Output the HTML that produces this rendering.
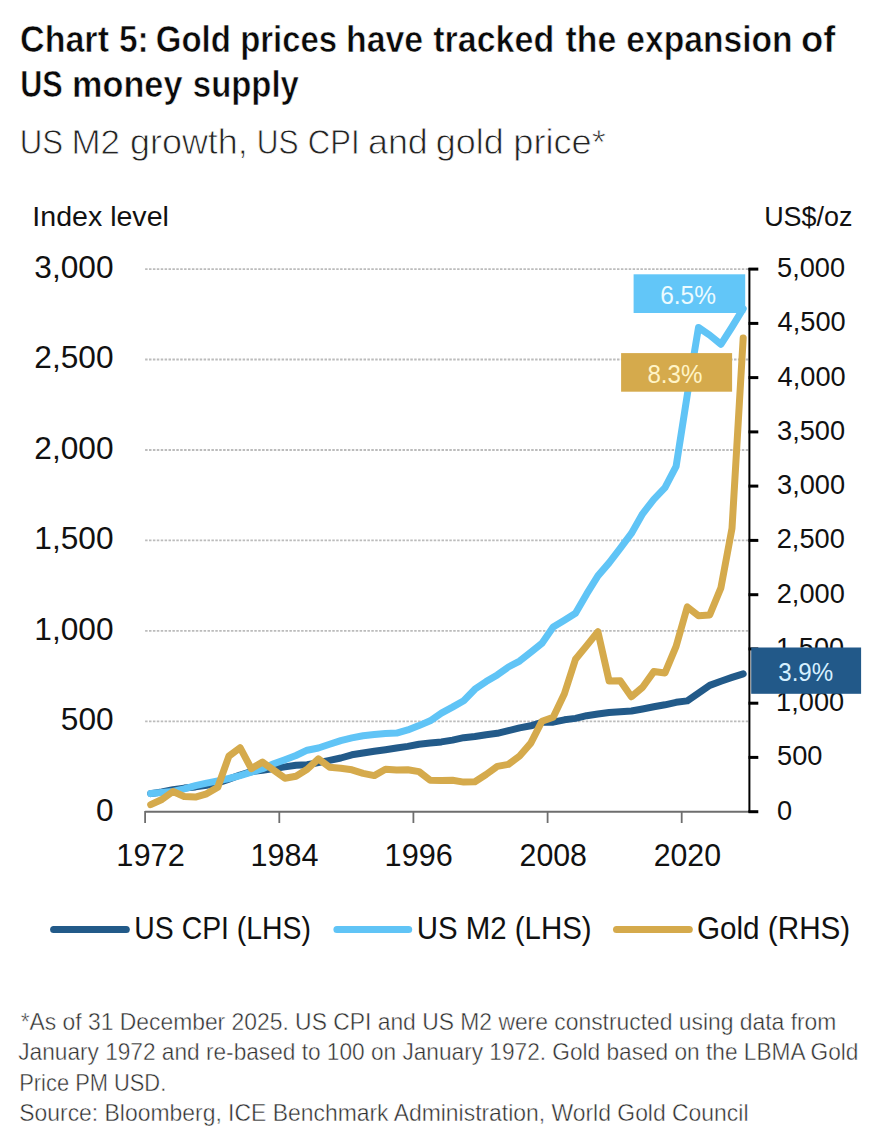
<!DOCTYPE html>
<html><head><meta charset="utf-8"><title>Chart 5: Gold prices have tracked the expansion of US money supply</title>
<style>
html,body{margin:0;padding:0;background:#fff;}
body{width:886px;height:1144px;overflow:hidden;font-family:"Liberation Sans",sans-serif;}
svg{display:block;}
svg text{font-family:"Liberation Sans",sans-serif;}
</style></head><body>
<svg width="886" height="1144" viewBox="0 0 886 1144">
<rect width="886" height="1144" fill="#fff"/>
<line x1="145.1" y1="721.3" x2="748.5" y2="721.3" stroke="#bcbcbc" stroke-width="1.8" stroke-dasharray="2.5 1.4"/>
<line x1="145.1" y1="630.8" x2="748.5" y2="630.8" stroke="#bcbcbc" stroke-width="1.8" stroke-dasharray="2.5 1.4"/>
<line x1="145.1" y1="540.4" x2="748.5" y2="540.4" stroke="#bcbcbc" stroke-width="1.8" stroke-dasharray="2.5 1.4"/>
<line x1="145.1" y1="450.0" x2="748.5" y2="450.0" stroke="#bcbcbc" stroke-width="1.8" stroke-dasharray="2.5 1.4"/>
<line x1="145.1" y1="359.5" x2="748.5" y2="359.5" stroke="#bcbcbc" stroke-width="1.8" stroke-dasharray="2.5 1.4"/>
<line x1="145.1" y1="269.1" x2="748.5" y2="269.1" stroke="#bcbcbc" stroke-width="1.8" stroke-dasharray="2.5 1.4"/>
<path d="M150.7,793.6 L161.9,792.0 L173.0,789.6 L184.2,788.1 L195.4,786.9 L206.6,785.3 L217.8,782.9 L228.9,779.1 L240.1,775.0 L251.3,771.7 L262.5,770.2 L273.7,768.6 L284.9,766.9 L296.0,765.2 L307.2,764.7 L318.4,762.6 L329.6,760.4 L340.8,758.0 L351.9,754.8 L363.1,753.0 L374.3,751.3 L385.5,749.7 L396.6,748.0 L407.8,746.4 L419.0,744.2 L430.2,743.1 L441.4,741.9 L452.5,740.1 L463.7,737.7 L474.9,736.5 L486.1,734.7 L497.3,733.3 L508.4,730.7 L519.6,727.9 L530.8,725.8 L542.0,722.3 L553.2,722.2 L564.4,719.8 L575.5,718.4 L586.7,715.7 L597.9,714.0 L609.1,712.5 L620.2,711.8 L631.4,711.0 L642.6,709.0 L653.8,706.8 L665.0,704.8 L676.1,702.3 L687.3,700.9 L698.5,693.1 L709.7,685.4 L720.9,681.2 L732.0,677.4 L743.2,673.8" fill="none" stroke="#225a89" stroke-width="7" stroke-linejoin="round" stroke-linecap="round"/>
<path d="M150.7,793.6 L161.9,792.4 L173.0,791.4 L184.2,788.8 L195.4,785.7 L206.6,783.1 L217.8,780.9 L228.9,778.5 L240.1,775.6 L251.3,772.1 L262.5,768.7 L273.7,763.8 L284.9,759.7 L296.0,755.5 L307.2,750.2 L318.4,748.0 L329.6,744.3 L340.8,740.6 L351.9,737.9 L363.1,735.7 L374.3,734.5 L385.5,733.4 L396.6,733.1 L407.8,729.9 L419.0,725.6 L430.2,720.8 L441.4,713.1 L452.5,707.1 L463.7,700.7 L474.9,689.2 L486.1,681.6 L497.3,674.9 L508.4,667.0 L519.6,661.1 L530.8,652.3 L542.0,643.3 L553.2,627.0 L564.4,620.2 L575.5,613.3 L586.7,593.9 L597.9,575.9 L609.1,562.9 L620.2,548.3 L631.4,533.4 L642.6,513.8 L653.8,499.3 L665.0,487.6 L676.1,466.4 L687.3,394.8 L698.5,327.5 L709.7,335.1 L720.9,344.3 L732.0,327.0 L743.2,308.7" fill="none" stroke="#60c4f6" stroke-width="7" stroke-linejoin="round" stroke-linecap="round"/>
<path d="M150.7,804.7 L161.9,799.5 L173.0,791.5 L184.2,796.5 L195.4,797.1 L206.6,793.8 L217.8,787.2 L228.9,756.1 L240.1,747.7 L251.3,768.6 L262.5,762.1 L273.7,770.2 L284.9,778.2 L296.0,776.2 L307.2,769.3 L318.4,758.9 L329.6,767.2 L340.8,768.2 L351.9,769.8 L363.1,773.4 L374.3,775.6 L385.5,769.2 L396.6,770.1 L407.8,769.7 L419.0,771.6 L430.2,780.2 L441.4,780.5 L452.5,780.2 L463.7,782.1 L474.9,781.7 L486.1,774.5 L497.3,766.4 L508.4,764.4 L519.6,756.0 L530.8,743.1 L542.0,721.2 L553.2,717.3 L564.4,693.7 L575.5,659.2 L586.7,645.6 L597.9,631.8 L609.1,681.0 L620.2,680.8 L631.4,696.7 L642.6,687.3 L653.8,671.6 L665.0,672.9 L676.1,646.4 L687.3,606.9 L698.5,615.7 L709.7,615.0 L720.9,587.9 L732.0,528.4 L743.2,337.9" fill="none" stroke="#d5aa4c" stroke-width="7" stroke-linejoin="round" stroke-linecap="round"/>
<line x1="145.1" y1="811.7" x2="749" y2="811.7" stroke="#6e6e6e" stroke-width="2"/>
<line x1="145.1" y1="811" x2="145.1" y2="823" stroke="#6e6e6e" stroke-width="1.8"/>
<line x1="279.3" y1="811" x2="279.3" y2="823" stroke="#6e6e6e" stroke-width="1.8"/>
<line x1="413.4" y1="811" x2="413.4" y2="823" stroke="#6e6e6e" stroke-width="1.8"/>
<line x1="547.6" y1="811" x2="547.6" y2="823" stroke="#6e6e6e" stroke-width="1.8"/>
<line x1="681.7" y1="811" x2="681.7" y2="823" stroke="#6e6e6e" stroke-width="1.8"/>
<line x1="749.4" y1="268" x2="749.4" y2="812.5" stroke="#000" stroke-width="2"/>
<line x1="748.5" y1="811.7" x2="758.3" y2="811.7" stroke="#000" stroke-width="3"/>
<line x1="748.5" y1="757.4" x2="758.3" y2="757.4" stroke="#000" stroke-width="3"/>
<line x1="748.5" y1="703.2" x2="758.3" y2="703.2" stroke="#000" stroke-width="3"/>
<line x1="748.5" y1="648.9" x2="758.3" y2="648.9" stroke="#000" stroke-width="3"/>
<line x1="748.5" y1="594.7" x2="758.3" y2="594.7" stroke="#000" stroke-width="3"/>
<line x1="748.5" y1="540.4" x2="758.3" y2="540.4" stroke="#000" stroke-width="3"/>
<line x1="748.5" y1="486.1" x2="758.3" y2="486.1" stroke="#000" stroke-width="3"/>
<line x1="748.5" y1="431.9" x2="758.3" y2="431.9" stroke="#000" stroke-width="3"/>
<line x1="748.5" y1="377.6" x2="758.3" y2="377.6" stroke="#000" stroke-width="3"/>
<line x1="748.5" y1="323.4" x2="758.3" y2="323.4" stroke="#000" stroke-width="3"/>
<line x1="748.5" y1="269.1" x2="758.3" y2="269.1" stroke="#000" stroke-width="3"/>
<line x1="53.6" y1="929.4" x2="126.3" y2="929.4" stroke="#225a89" stroke-width="7" stroke-linecap="round"/>
<line x1="336.9" y1="929.4" x2="408.7" y2="929.4" stroke="#60c4f6" stroke-width="7" stroke-linecap="round"/>
<line x1="616.5" y1="929.4" x2="689.3" y2="929.4" stroke="#d5aa4c" stroke-width="7" stroke-linecap="round"/>
<text x="20.04" y="51.70" font-size="36.6" font-weight="bold" fill="#0a0a0a" textLength="88.95" lengthAdjust="spacingAndGlyphs" stroke="#fff" stroke-width="0.6">Chart</text>
<text x="119.00" y="51.70" font-size="36.6" font-weight="bold" fill="#0a0a0a" textLength="29.72" lengthAdjust="spacingAndGlyphs" stroke="#fff" stroke-width="0.6">5:</text>
<text x="155.78" y="51.70" font-size="36.6" font-weight="bold" fill="#0a0a0a" textLength="75.14" lengthAdjust="spacingAndGlyphs" stroke="#fff" stroke-width="0.6">Gold</text>
<text x="240.16" y="51.70" font-size="36.6" font-weight="bold" fill="#0a0a0a" textLength="96.90" lengthAdjust="spacingAndGlyphs" stroke="#fff" stroke-width="0.6">prices</text>
<text x="346.03" y="51.70" font-size="36.6" font-weight="bold" fill="#0a0a0a" textLength="77.13" lengthAdjust="spacingAndGlyphs" stroke="#fff" stroke-width="0.6">have</text>
<text x="433.16" y="51.70" font-size="36.6" font-weight="bold" fill="#0a0a0a" textLength="121.15" lengthAdjust="spacingAndGlyphs" stroke="#fff" stroke-width="0.6">tracked</text>
<text x="565.56" y="51.70" font-size="36.6" font-weight="bold" fill="#0a0a0a" textLength="50.62" lengthAdjust="spacingAndGlyphs" stroke="#fff" stroke-width="0.6">the</text>
<text x="626.36" y="51.70" font-size="36.6" font-weight="bold" fill="#0a0a0a" textLength="166.29" lengthAdjust="spacingAndGlyphs" stroke="#fff" stroke-width="0.6">expansion</text>
<text x="800.94" y="51.70" font-size="36.6" font-weight="bold" fill="#0a0a0a" textLength="34.42" lengthAdjust="spacingAndGlyphs" stroke="#fff" stroke-width="0.6">of</text>
<text x="20.26" y="97.20" font-size="36.6" font-weight="bold" fill="#0a0a0a" textLength="42.54" lengthAdjust="spacingAndGlyphs" stroke="#fff" stroke-width="0.6">US</text>
<text x="72.07" y="97.20" font-size="36.6" font-weight="bold" fill="#0a0a0a" textLength="110.41" lengthAdjust="spacingAndGlyphs" stroke="#fff" stroke-width="0.6">money</text>
<text x="192.85" y="97.20" font-size="36.6" font-weight="bold" fill="#0a0a0a" textLength="106.01" lengthAdjust="spacingAndGlyphs" stroke="#fff" stroke-width="0.6">supply</text>
<text x="19.76" y="154.40" font-size="35.4" font-weight="normal" fill="#222" textLength="43.38" lengthAdjust="spacingAndGlyphs" stroke="#fff" stroke-width="0.8">US</text>
<text x="71.51" y="154.40" font-size="35.4" font-weight="normal" fill="#222" textLength="48.51" lengthAdjust="spacingAndGlyphs" stroke="#fff" stroke-width="0.8">M2</text>
<text x="130.06" y="154.40" font-size="35.4" font-weight="normal" fill="#222" textLength="117.75" lengthAdjust="spacingAndGlyphs" stroke="#fff" stroke-width="0.8">growth,</text>
<text x="256.74" y="154.40" font-size="35.4" font-weight="normal" fill="#222" textLength="41.84" lengthAdjust="spacingAndGlyphs" stroke="#fff" stroke-width="0.8">US</text>
<text x="307.75" y="154.40" font-size="35.4" font-weight="normal" fill="#222" textLength="51.81" lengthAdjust="spacingAndGlyphs" stroke="#fff" stroke-width="0.8">CPI</text>
<text x="367.97" y="154.40" font-size="35.4" font-weight="normal" fill="#222" textLength="59.79" lengthAdjust="spacingAndGlyphs" stroke="#fff" stroke-width="0.8">and</text>
<text x="435.86" y="154.40" font-size="35.4" font-weight="normal" fill="#222" textLength="67.90" lengthAdjust="spacingAndGlyphs" stroke="#fff" stroke-width="0.8">gold</text>
<text x="513.25" y="154.40" font-size="35.4" font-weight="normal" fill="#222" textLength="92.58" lengthAdjust="spacingAndGlyphs" stroke="#fff" stroke-width="0.8">price*</text>
<text x="32.33" y="225.60" font-size="27" font-weight="normal" fill="#111" textLength="136.55" lengthAdjust="spacingAndGlyphs">Index level</text>
<text x="764.18" y="225.50" font-size="27" font-weight="normal" fill="#111" textLength="88.25" lengthAdjust="spacingAndGlyphs">US$/oz</text>
<text x="95.93" y="820.60" font-size="31.5" font-weight="normal" fill="#111" textLength="17.61" lengthAdjust="spacingAndGlyphs">0</text>
<text x="60.78" y="730.17" font-size="31.5" font-weight="normal" fill="#111" textLength="52.84" lengthAdjust="spacingAndGlyphs">500</text>
<text x="34.33" y="639.73" font-size="31.5" font-weight="normal" fill="#111" textLength="79.25" lengthAdjust="spacingAndGlyphs">1,000</text>
<text x="34.33" y="549.30" font-size="31.5" font-weight="normal" fill="#111" textLength="79.25" lengthAdjust="spacingAndGlyphs">1,500</text>
<text x="34.33" y="458.87" font-size="31.5" font-weight="normal" fill="#111" textLength="79.25" lengthAdjust="spacingAndGlyphs">2,000</text>
<text x="34.33" y="368.43" font-size="31.5" font-weight="normal" fill="#111" textLength="79.25" lengthAdjust="spacingAndGlyphs">2,500</text>
<text x="34.33" y="278.00" font-size="31.5" font-weight="normal" fill="#111" textLength="79.25" lengthAdjust="spacingAndGlyphs">3,000</text>
<text x="777.01" y="819.70" font-size="27.4" font-weight="normal" fill="#111" textLength="15.14" lengthAdjust="spacingAndGlyphs">0</text>
<text x="777.01" y="765.44" font-size="27.4" font-weight="normal" fill="#111" textLength="45.41" lengthAdjust="spacingAndGlyphs">500</text>
<text x="776.06" y="711.18" font-size="27.4" font-weight="normal" fill="#111" textLength="68.11" lengthAdjust="spacingAndGlyphs">1,000</text>
<text x="776.06" y="656.92" font-size="27.4" font-weight="normal" fill="#111" textLength="68.11" lengthAdjust="spacingAndGlyphs">1,500</text>
<text x="776.74" y="602.66" font-size="27.4" font-weight="normal" fill="#111" textLength="68.11" lengthAdjust="spacingAndGlyphs">2,000</text>
<text x="776.74" y="548.40" font-size="27.4" font-weight="normal" fill="#111" textLength="68.11" lengthAdjust="spacingAndGlyphs">2,500</text>
<text x="777.01" y="494.14" font-size="27.4" font-weight="normal" fill="#111" textLength="68.11" lengthAdjust="spacingAndGlyphs">3,000</text>
<text x="777.01" y="439.88" font-size="27.4" font-weight="normal" fill="#111" textLength="68.11" lengthAdjust="spacingAndGlyphs">3,500</text>
<text x="777.56" y="385.62" font-size="27.4" font-weight="normal" fill="#111" textLength="68.11" lengthAdjust="spacingAndGlyphs">4,000</text>
<text x="777.56" y="331.36" font-size="27.4" font-weight="normal" fill="#111" textLength="68.11" lengthAdjust="spacingAndGlyphs">4,500</text>
<text x="777.01" y="277.10" font-size="27.4" font-weight="normal" fill="#111" textLength="68.11" lengthAdjust="spacingAndGlyphs">5,000</text>
<text x="116.29" y="865.60" font-size="32" font-weight="normal" fill="#111" textLength="68.54" lengthAdjust="spacingAndGlyphs">1972</text>
<text x="250.47" y="865.60" font-size="32" font-weight="normal" fill="#111" textLength="67.89" lengthAdjust="spacingAndGlyphs">1984</text>
<text x="384.62" y="865.60" font-size="32" font-weight="normal" fill="#111" textLength="68.22" lengthAdjust="spacingAndGlyphs">1996</text>
<text x="519.56" y="865.60" font-size="32" font-weight="normal" fill="#111" textLength="67.42" lengthAdjust="spacingAndGlyphs">2008</text>
<text x="653.73" y="865.60" font-size="32" font-weight="normal" fill="#111" textLength="67.26" lengthAdjust="spacingAndGlyphs">2020</text>
<text x="134.37" y="938.90" font-size="31.9" font-weight="normal" fill="#111" textLength="176.63" lengthAdjust="spacingAndGlyphs">US CPI (LHS)</text>
<text x="416.69" y="938.90" font-size="31.9" font-weight="normal" fill="#111" textLength="174.99" lengthAdjust="spacingAndGlyphs">US M2 (LHS)</text>
<text x="696.92" y="938.90" font-size="31.9" font-weight="normal" fill="#111" textLength="153.34" lengthAdjust="spacingAndGlyphs">Gold (RHS)</text>
<text x="20.66" y="1029.60" font-size="23.4" font-weight="normal" fill="#2e2e2e" textLength="815.72" lengthAdjust="spacingAndGlyphs" stroke="#fff" stroke-width="0.45">*As of 31 December 2025. US CPI and US M2 were constructed using data from</text>
<text x="18.26" y="1060.30" font-size="23.4" font-weight="normal" fill="#2e2e2e" textLength="840.17" lengthAdjust="spacingAndGlyphs" stroke="#fff" stroke-width="0.45">January 1972 and re-based to 100 on January 1972. Gold based on the LBMA Gold</text>
<text x="19.25" y="1090.80" font-size="23.4" font-weight="normal" fill="#2e2e2e" textLength="146.99" lengthAdjust="spacingAndGlyphs" stroke="#fff" stroke-width="0.45">Price PM USD.</text>
<text x="19.27" y="1121.20" font-size="23.4" font-weight="normal" fill="#2e2e2e" textLength="729.22" lengthAdjust="spacingAndGlyphs" stroke="#fff" stroke-width="0.45">Source: Bloomberg, ICE Benchmark Administration, World Gold Council</text>
<rect x="633.6" y="274.3" width="111.6" height="38.7" fill="#62c6f8"/>
<rect x="621.1" y="353.1" width="111" height="38.6" fill="#d5aa4c"/>
<rect x="751.2" y="647.5" width="109.9" height="46.3" fill="#225989"/>
<text x="660.18" y="303.60" font-size="26.4" font-weight="normal" fill="#ecfbff" textLength="55.76" lengthAdjust="spacingAndGlyphs">6.5%</text>
<text x="647.41" y="382.90" font-size="26.4" font-weight="normal" fill="#fff4c6" textLength="55.01" lengthAdjust="spacingAndGlyphs">8.3%</text>
<text x="778.23" y="680.70" font-size="26.4" font-weight="normal" fill="#d6f0ff" textLength="54.99" lengthAdjust="spacingAndGlyphs">3.9%</text>
</svg>
</body></html>
